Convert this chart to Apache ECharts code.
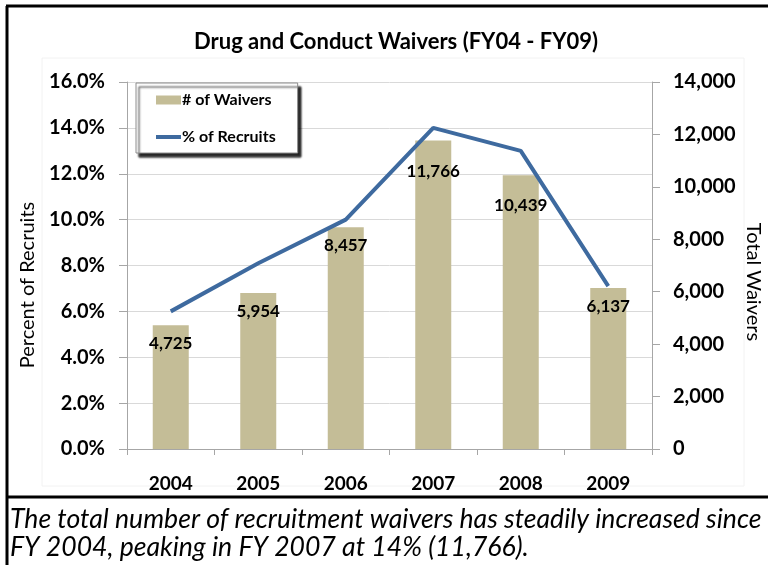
<!DOCTYPE html>
<html>
<head>
<meta charset="utf-8">
<script src="https://cdn.jsdelivr.net/npm/echarts@6/dist/echarts.min.js"></script>
<style>
  html, body { margin: 0; padding: 0; background: #fff; }
  #chart { width: 768px; height: 565px; }
</style>
</head>
<body>
<div id="chart"></div>
<script>
// values
const years = ['2004', '2005', '2006', '2007', '2008', '2009'];
const waivers = [4725, 5954, 8457, 11766, 10439, 6137];
const pctRecruits = [6.0, 8.1, 10.0, 14.0, 13.0, 7.1];
const captionLines = [
  'The total number of recruitment waivers has steadily increased since',
  'FY 2004, peaking in FY 2007 at 14% (11,766).'
];

const FONT = 'Lato, "Open Sans", sans-serif';
const axisGray = '#A6A6A6';
const lineBlue = '#3E6A9F';

// the labels of the two tall bars sit lower, under the line
const lowLabel = { '2007': 12, '2008': 12 };

const chart = echarts.init(document.getElementById('chart'));

const barData = waivers.map((v, i) => {
  const extra = lowLabel[years[i]];
  return extra ? { value: v, label: { offset: [0, extra] } } : v;
});

const tickFont = { fontFamily: FONT, fontSize: 20, fontWeight: 'bold', color: '#000' };

const option = {
  animation: false,
  title: {
    text: 'Drug and Conduct Waivers (FY04 - FY09)',
    left: 189,
    top: 26,
    textStyle: { fontFamily: FONT, fontSize: 22, fontWeight: 'bold', color: '#000' }
  },
  legend: {
    orient: 'vertical',
    left: 136,
    top: 83,
    padding: [9, 22, 8, 18],
    itemGap: 21,
    itemWidth: 25,
    itemHeight: 9,
    backgroundColor: '#fff',
    borderColor: '#8c8c8c',
    borderWidth: 1,
    shadowColor: 'rgba(0,0,0,0.85)',
    shadowBlur: 2,
    shadowOffsetX: 3,
    shadowOffsetY: 4,
    textStyle: { fontFamily: FONT, fontSize: 16, fontWeight: 'bold', color: '#000', padding: [0, 0, 0, -4] },
    data: [
      { name: '# of Waivers', icon: 'rect' },
      { name: '% of Recruits', itemStyle: { opacity: 0 }, lineStyle: { width: 4, color: lineBlue } }
    ]
  },
  grid: { left: 127, right: 116, top: 82, bottom: 116, containLabel: false },
  xAxis: {
    type: 'category',
    data: years,
    axisLine: { lineStyle: { color: axisGray } },
    axisTick: { show: true, length: 6, lineStyle: { color: axisGray } },
    axisLabel: Object.assign({ margin: 25 }, tickFont, { fontSize: 19 })
  },
  yAxis: [
    {
      type: 'value',
      min: 0,
      max: 16,
      interval: 2,
      axisLine: { show: true, lineStyle: { color: axisGray } },
      axisTick: { show: true, length: 8, lineStyle: { color: axisGray } },
      axisLabel: Object.assign({ margin: 22, formatter: v => v.toFixed(1) + '%' }, tickFont),
      splitLine: { lineStyle: { color: '#D9D9D9' } }
    },
    {
      type: 'value',
      min: 0,
      max: 14000,
      interval: 2000,
      axisLine: { show: true, lineStyle: { color: axisGray } },
      axisTick: { show: true, length: 8, lineStyle: { color: axisGray } },
      axisLabel: Object.assign({ margin: 21, formatter: v => v.toLocaleString('en-US') }, tickFont),
      splitLine: { show: false }
    }
  ],
  series: [
    {
      name: '# of Waivers',
      type: 'bar',
      yAxisIndex: 1,
      barWidth: 36,
      itemStyle: { color: '#C4BD97' },
      label: {
        show: true,
        position: 'insideTop',
        distance: 10,
        fontFamily: FONT, fontSize: 17, fontWeight: 'bold', color: '#000',
        formatter: p => p.value.toLocaleString('en-US')
      },
      data: barData
    },
    {
      name: '% of Recruits',
      type: 'line',
      yAxisIndex: 0,
      symbol: 'none',
      lineStyle: { color: lineBlue, width: 4 },
      itemStyle: { color: lineBlue },
      data: pctRecruits
    }
  ],
  graphic: [
    // faint chart-area border
    { type: 'rect', shape: { x: 42, y: 58, width: 702, height: 428 }, style: { fill: 'none', stroke: '#F2F2F2', lineWidth: 1 }, silent: true },
    // axis titles
    {
      type: 'text', x: 28, y: 285, rotation: Math.PI / 2,
      style: { text: 'Percent of Recruits', font: '20px ' + FONT, fill: '#000', align: 'center', verticalAlign: 'middle' }
    },
    {
      type: 'text', x: 753, y: 282, rotation: -Math.PI / 2,
      style: { text: 'Total Waivers', font: '20px ' + FONT, fill: '#000', align: 'center', verticalAlign: 'middle' }
    },
    // black frame
    { type: 'line', shape: { x1: 6, y1: 6, x2: 768, y2: 6 }, style: { stroke: '#000', lineWidth: 3 } },
    { type: 'line', shape: { x1: 7, y1: 6, x2: 7, y2: 565 }, style: { stroke: '#000', lineWidth: 3 } },
    { type: 'line', shape: { x1: 6, y1: 497, x2: 768, y2: 497 }, style: { stroke: '#000', lineWidth: 3 } },
    {
      type: 'text', left: 10, top: 506,
      style: { text: captionLines[0], font: 'italic 26.6px ' + FONT, fill: '#000' }
    },
    {
      type: 'text', left: 10, top: 534,
      style: { text: captionLines[1], font: 'italic 26.6px ' + FONT, fill: '#000' }
    }
  ]
};

chart.setOption(option);
</script>
</body>
</html>
